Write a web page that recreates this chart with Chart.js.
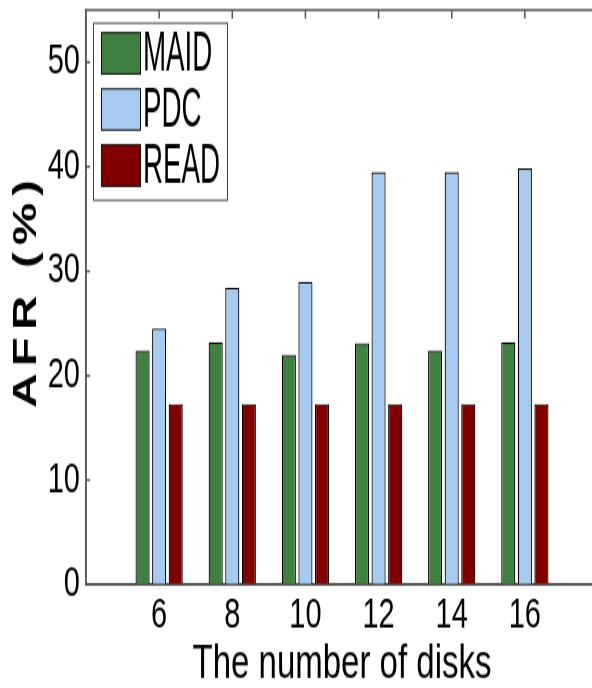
<!DOCTYPE html>
<html>
<head>
<meta charset="utf-8">
<script src="https://cdn.jsdelivr.net/npm/chart.js@4.4.1/dist/chart.umd.min.js"></script>
<style>
  html, body { margin: 0; padding: 0; background: #fff; overflow: hidden; }
  #wrap { width: 592px; height: 688px; overflow: hidden; }
</style>
</head>
<body>
<div id="wrap">
  <canvas id="afrChart" width="610" height="478" style="display:block;width:610px;height:688px"></canvas>
</div>
<script>
// data
const disks = [6, 8, 10, 12, 14, 16];
const maid = [22.4, 23.2, 22.0, 23.1, 22.4, 23.2];
const pdc = [24.5, 28.4, 29.0, 39.5, 39.5, 39.85];
const read = [17.3, 17.3, 17.3, 17.3, 17.3, 17.3];
const yTicks = [0, 10, 20, 30, 40, 50];

// the axis runs one step past the first and last disk count
const xLabels = [disks[0] - 2, ...disks, disks[disks.length - 1] + 2].map(String);
const pad = arr => [null, ...arr, null];

const axisColor = '#555';
const font = '"Liberation Sans", Arial, sans-serif';

// box around the plot with small inward ticks (matlab style)
const framePlugin = {
  id: 'frame',
  afterDatasetsDraw(chart) {
    const { ctx, chartArea: a, scales: { x, y } } = chart;
    ctx.save();
    ctx.strokeStyle = axisColor;
    ctx.lineWidth = 1.5;
    ctx.strokeRect(a.left, a.top, a.right - a.left, a.bottom - a.top);
    ctx.beginPath();
    y.ticks.forEach(t => {
      const py = y.getPixelForValue(t.value);
      ctx.moveTo(a.left, py); ctx.lineTo(a.left + 4, py);
      ctx.moveTo(a.right, py); ctx.lineTo(a.right - 4, py);
    });
    disks.forEach((d, i) => {
      const px = x.getPixelForValue(i + 1);
      ctx.moveTo(px, a.top); ctx.lineTo(px, a.top + 6);
    });
    ctx.stroke();
    ctx.restore();
  }
};

// rotated y title, spaced out like the original
const yTitle = {
  id: 'yTitle',
  afterDraw(chart) {
    const { ctx, chartArea: a } = chart;
    ctx.save();
    ctx.translate(26.5, (a.top + a.bottom) / 2);
    ctx.rotate(-Math.PI / 2);
    ctx.font = 'bold 33px ' + font;
    ctx.letterSpacing = '5px';
    ctx.fillStyle = '#000';
    ctx.textAlign = 'center';
    ctx.textBaseline = 'middle';
    ctx.fillText('AFR (%)', 5, 0);
    ctx.restore();
  }
};

// legend box in the upper left corner of the plot
const boxLegend = {
  id: 'boxLegend',
  afterDraw(chart) {
    const { ctx, chartArea: a } = chart;
    const left = a.left + 7, top = a.top + 8.6;
    ctx.save();
    ctx.fillStyle = '#fff';
    ctx.fillRect(left, top, 134, 123);
    ctx.strokeStyle = '#444';
    ctx.lineWidth = 1;
    ctx.strokeRect(left + 0.5, top + 0.5, 134, 123);
    chart.data.datasets.forEach((ds, i) => {
      const sy = top + 6.7 + i * 39;
      ctx.fillStyle = ds.backgroundColor;
      ctx.fillRect(left + 8, sy, 40, 29.5);
      ctx.strokeStyle = '#111';
      ctx.strokeRect(left + 8.5, sy + 0.5, 39, 28.5);
      ctx.save();
      ctx.translate(left + 50, sy + 15);
      ctx.scale(0.73, 1);
      ctx.fillStyle = '#000';
      ctx.font = '38px ' + font;
      ctx.textBaseline = 'middle';
      ctx.fillText(ds.label, 0, 1);
      ctx.restore();
    });
    ctx.restore();
  }
};

new Chart(document.getElementById('afrChart').getContext('2d'), {
  type: 'bar',
  data: {
    labels: xLabels,
    datasets: [
      { label: 'MAID', data: pad(maid), backgroundColor: '#408040' },
      { label: 'PDC', data: pad(pdc), backgroundColor: '#a6caf0' },
      { label: 'READ', data: pad(read), backgroundColor: '#800000' }
    ]
  },
  options: {
    responsive: false,
    animation: false,
    devicePixelRatio: 1,
    layout: { padding: { left: 0, top: 7, right: 12, bottom: 0 } },
    datasets: {
      bar: {
        categoryPercentage: 0.68,
        barPercentage: 0.85,
        borderWidth: 1.2,
        borderColor: '#000'
      }
    },
    plugins: {
      legend: { display: false },
      tooltip: { enabled: false }
    },
    scales: {
      x: {
        offset: false,
        grid: { display: false, drawTicks: false },
        border: { display: true, color: axisColor, width: 1.5 },
        ticks: {
          color: '#000',
          padding: 4,
          font: { family: font, size: 29 },
          maxRotation: 0,
          autoSkip: false,
          callback: (v, i) => (i === 0 || i === xLabels.length - 1) ? '' : xLabels[i]
        },
        title: {
          display: true,
          text: 'The number of disks',
          color: '#000',
          font: { family: font, size: 33, lineHeight: 1 },
          padding: { top: 0, bottom: 0 }
        },
        afterFit: s => { s.height = 71.8; s.paddingLeft = 0; s.paddingRight = 0; }
      },
      y: {
        min: 0,
        max: 55,
        grid: { display: false, drawTicks: false },
        border: { display: true, color: axisColor, width: 1.5 },
        afterBuildTicks: s => { s.ticks = yTicks.map(v => ({ value: v })); },
        ticks: {
          color: '#000',
          padding: 6,
          font: { family: font, size: 29 }
        },
        afterFit: s => { s.width = 86; s.paddingTop = 0; s.paddingBottom = 0; }
      }
    }
  },
  plugins: [framePlugin, yTitle, boxLegend]
});
</script>
</body>
</html>
